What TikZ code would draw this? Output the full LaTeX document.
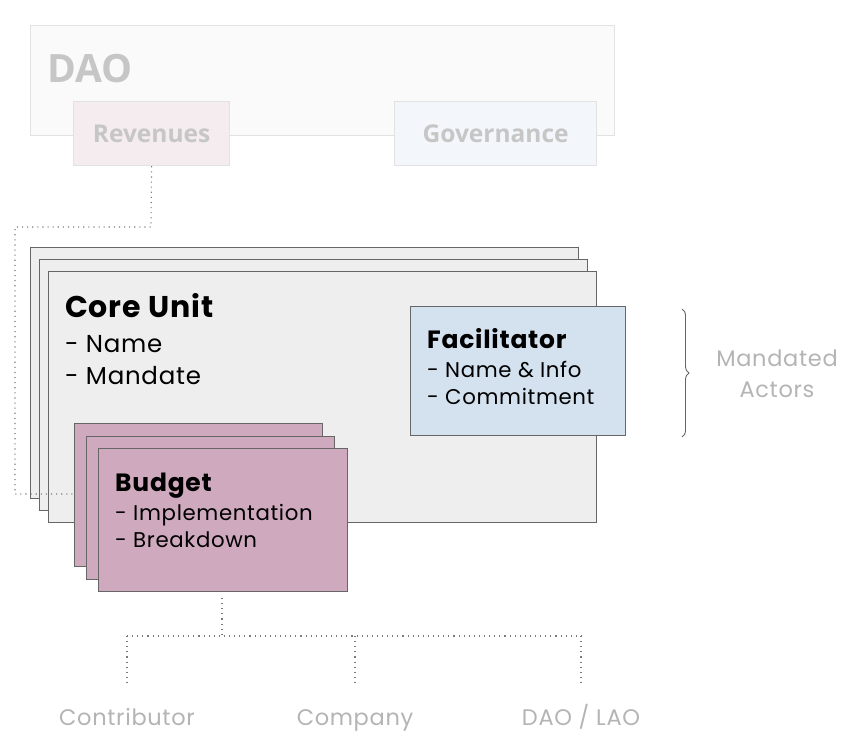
\documentclass[tikz,border=0pt]{standalone}
\usepackage{fontspec}
\setmainfont[LetterSpace=3]{Poppins}
\newfontfamily\opensans{Open Sans}
\usetikzlibrary{decorations.pathreplacing}
\definecolor{daofill}{HTML}{FAFAFA}
\definecolor{daoline}{HTML}{E2E2E2}
\definecolor{ghost}{HTML}{C6C6C6}
\definecolor{revfill}{HTML}{F5ECF0}
\definecolor{govfill}{HTML}{F3F6FB}
\definecolor{corefill}{HTML}{EEEEEE}
\definecolor{edge}{HTML}{666666}
\definecolor{facfill}{HTML}{D4E1EF}
\definecolor{budfill}{HTML}{CFA9BE}
\definecolor{lbl}{HTML}{B4B4B4}
\definecolor{dots}{HTML}{7A7A7A}
\tikzset{
  box/.style={draw=edge, line width=1.4pt, anchor=north west, inner sep=0pt},
  ghostbox/.style={draw=daoline, line width=1.2pt, anchor=north west, inner sep=0pt},
  txt/.style={anchor=base west, inner sep=0pt, text=black},
  link/.style={draw=dots, line width=1.1pt, dash pattern=on 1.1pt off 4pt},
  grey/.style={text=lbl, inner sep=0pt, font=\fontsize{22.5}{31}\selectfont},
}
\begin{document}
\begin{tikzpicture}[x=1pt,y=-1pt]
\useasboundingbox (0,0) rectangle (852,750);
% DAO
\node[ghostbox, fill=daofill, minimum width=584pt, minimum height=110pt] (dao) at (30,25) {};
\node[anchor=base west, inner sep=0pt, text=ghost, font=\opensans\fontsize{39}{40}\selectfont\bfseries] (daot) at (47,82) {DAO};
\node[ghostbox, fill=revfill, minimum width=156pt, minimum height=64pt] (rev) at (73,101) {};
\node[text=ghost, inner sep=0pt, font=\opensans\fontsize{24.5}{24}\selectfont\bfseries] (revt) at (rev.center) {Revenues};
\node[ghostbox, fill=govfill, minimum width=202pt, minimum height=64pt] (gov) at (394,101) {};
\node[text=ghost, inner sep=0pt, font=\opensans\fontsize{24.5}{24}\selectfont\bfseries] (govt) at (gov.center) {Governance};
% Core unit stack
\node[box, fill=corefill, minimum width=548pt, minimum height=251pt] (cu1) at (30,247) {};
\node[box, fill=corefill, minimum width=548pt, minimum height=251pt] (cu2) at (39,259) {};
\node[box, fill=corefill, minimum width=548pt, minimum height=251pt] (cu3) at (48,271) {};
\node[txt, font=\fontsize{30}{30}\selectfont\bfseries] (cut) at (65,317) {Core Unit};
\node[txt, font=\fontsize{24.5}{26}\selectfont] (cun) at (65,352) {- Name};
\node[txt, font=\fontsize{24.5}{26}\selectfont] (cum) at (65,384) {- Mandate};
% Facilitator
\node[box, fill=facfill, minimum width=215pt, minimum height=129pt] (fac) at (410,306) {};
\node[txt, font=\fontsize{25}{26}\selectfont\bfseries] (fact) at (427,348) {Facilitator};
\node[txt, font=\fontsize{21.3}{22}\selectfont] (facn) at (427,377) {- Name \& Info};
\node[txt, font=\fontsize{21.3}{22}\selectfont] (facc) at (427,404) {- Commitment};
% revenue link
\coordinate (r1) at (151,227);
\coordinate (r2) at (15,227);
\coordinate (r3) at (15,494);
\coordinate (r4) at (74,494);
\draw[link] (rev.south) -- (r1) -- (r2) -- (r3) -- (r4);
% Budget stack
\node[box, fill=budfill, minimum width=248pt, minimum height=143pt] (bu1) at (74,423) {};
\node[box, fill=budfill, minimum width=248pt, minimum height=143pt] (bu2) at (86,436) {};
\node[box, fill=budfill, minimum width=249pt, minimum height=143pt] (bu3) at (98,448) {};
\node[txt, font=\fontsize{25}{26}\selectfont\bfseries] (but) at (115,491) {Budget};
\node[txt, font=\fontsize{21.3}{22}\selectfont] (bui) at (115,520) {- Implementation};
\node[txt, font=\fontsize{21.3}{22}\selectfont] (bub) at (115,547) {- Breakdown};
% Recipients
\node[grey, anchor=base] (con) at (127,725) {Contributor};
\node[grey, anchor=base] (com) at (355,725) {Company};
\node[grey, anchor=base] (lao) at (581,725) {DAO / LAO};
\coordinate (b0) at (222,598);
\coordinate (b1) at (222,636);
\coordinate (h1) at (127,636);
\coordinate (h2) at (355,636);
\coordinate (h3) at (581,636);
\coordinate (v1) at (127,684);
\coordinate (v2) at (355,684);
\coordinate (v3) at (581,684);
\draw[link] (b0) -- (b1);
\draw[link] (h1) -- (h3);
\draw[link] (h1) -- (v1);
\draw[link] (h2) -- (v2);
\draw[link] (h3) -- (v3);
% Brace
\coordinate (bt) at (682,309);
\coordinate (bb) at (682,437);
\draw[draw=edge, line width=0.9pt, decorate, decoration={brace, amplitude=7pt}] (bt) -- (bb);
\node[grey, align=center] (act) at (777,374) {Mandated\\Actors};
\end{tikzpicture}
\end{document}
